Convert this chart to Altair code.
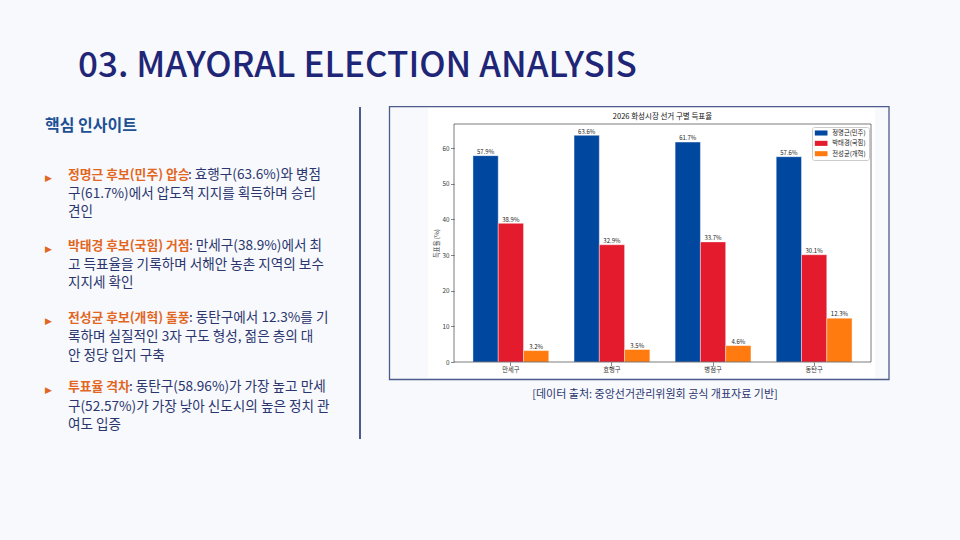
import altair as alt
import pandas as pd

# ---------------- data ----------------
districts = ["만세구", "효행구", "병점구", "동탄구"]
candidates = ["정명근(민주)", "박태경(국힘)", "전성균(개혁)"]
jung = [57.9, 63.6, 61.7, 57.6]
park = [38.9, 32.9, 33.7, 30.1]
jeon = [3.2, 3.5, 4.6, 12.3]
bar_colors = ["#0047a0", "#e31b2c", "#ff7b10"]

chart_title = "2026 화성시장 선거 구별 득표율"
y_title = "득표율 (%)"
y_ticks = [0, 10, 20, 30, 40, 50, 60]

slide_title = "03. MAYORAL ELECTION ANALYSIS"
heading = "핵심 인사이트"
bullet_keys = ["정명근 후보(민주) 압승", "박태경 후보(국힘) 거점",
               "전성균 후보(개혁) 돌풍", "투표율 격차"]
bullet_first = [": 효행구(63.6%)와 병점", ": 만세구(38.9%)에서 최",
                ": 동탄구에서 12.3%를 기", ": 동탄구(58.96%)가 가장 높고 만세"]
bullet_rest = [["구(61.7%)에서 압도적 지지를 획득하며 승리", "견인"],
               ["고 득표율을 기록하며 서해안 농촌 지역의 보수", "지지세 확인"],
               ["록하며 실질적인 3자 구도 형성, 젊은 층의 대", "안 정당 입지 구축"],
               ["구(52.57%)가 가장 낮아 신도시의 높은 정치 관", "여도 입증"]]
caption = "[데이터 출처: 중앙선거관리위원회 공식 개표자료 기반]"

rows = []
for cand, vals in zip(candidates, [jung, park, jeon]):
    for d, v in zip(districts, vals):
        rows.append({"district": d, "candidate": cand, "value": v})
df = pd.DataFrame(rows)

# ---------------- layout ----------------
KR = "Noto Sans CJK KR"
OX, OY = 454, 124          # plot-area origin on the page
W, H = 417, 238            # plot-area size
ymax = max(jung) * 1.05

NAVY = "#2b356e"
ORANGE = "#e2661f"
one = pd.DataFrame({"k": [0]})


def px(x):
    return x - OX


def py(y):
    return y - OY


def txt(text, x, y, size, color, weight="normal", align="left",
        baseline="middle", font=KR):
    kw = dict(align=align, baseline=baseline, fontSize=size, font=font,
              fontWeight=weight, color=color)
    return alt.Chart(one).mark_text(**kw).encode(
        x=alt.value(px(x)), y=alt.value(py(y)), text=alt.value(text))


def box(x1, y1, x2, y2, **kw):
    return alt.Chart(one).mark_rect(**kw).encode(
        x=alt.value(px(x1)), x2=alt.value(px(x2)),
        y=alt.value(py(y1)), y2=alt.value(py(y2)))


layers = []

# frame around chart image and white figure
layers.append(box(389.5, 106.7, 889, 379.5, filled=False,
                  stroke="#4d5b8c", strokeWidth=1.3))
layers.append(box(428, 108, 875, 378, color="white"))

x_enc = alt.X("district:N", sort=districts,
              scale=alt.Scale(paddingInner=0.25, paddingOuter=0.1875),
              axis=alt.Axis(title=None, labelAngle=0, labelFont=KR,
                            labelFontSize=6.3, labelColor="#333",
                            tickSize=3.5, tickColor="#333", tickWidth=0.6,
                            domain=False, labelPadding=1, zindex=1))
xo_enc = alt.XOffset("candidate:N", sort=candidates)
y_enc = alt.Y("value:Q",
              scale=alt.Scale(domain=[0, ymax], nice=False),
              axis=alt.Axis(values=y_ticks, tickCount=7, format="d",
                            labelFont=KR, labelOverlap=False,
                            labelFontSize=6.3, labelColor="#333",
                            tickSize=3.5, tickColor="#333", tickWidth=0.6,
                            domain=False, grid=False, labelPadding=1.5,
                            title=y_title, titleFont=KR, titleFontSize=6.3,
                            titleFontWeight="normal", titleColor="#333333",
                            titleX=-17.3, titleY=119, titleAngle=270,
                            titleAlign="center", titleBaseline="middle",
                            zindex=1))

bars = alt.Chart(df).mark_bar(stroke="white", strokeWidth=0.4).encode(
    x=x_enc, xOffset=xo_enc, y=y_enc,
    color=alt.Color("candidate:N",
                    scale=alt.Scale(domain=candidates, range=bar_colors),
                    legend=alt.Legend(
                        title=None, orient="none", legendX=358, legendY=3,
                        direction="vertical",
                        symbolType="M-1,-0.8H3V0.8H-1Z", symbolSize=40,
                        symbolStrokeWidth=0, symbolOpacity=1,
                        labelFont=KR, labelFontSize=6.3, labelColor="#222",
                        labelOffset=10.8, rowPadding=3.35, padding=2.5,
                        fillColor="rgba(255,255,255,0.85)",
                        strokeColor="#cccccc", cornerRadius=2)),
)
labels = alt.Chart(df).transform_calculate(
    label="format(datum.value, '.1f') + '%'"
).mark_text(baseline="bottom", dy=-0.8, fontSize=6, font=KR,
            color="#222").encode(
    x=x_enc, xOffset=xo_enc, y=y_enc, text="label:N")
layers += [bars, labels]

# spines
layers.append(alt.Chart(one).mark_rect(filled=False, stroke="#444",
                                       strokeWidth=0.7).encode(
    x=alt.value(0), x2=alt.value(W), y=alt.value(0), y2=alt.value(H)))

# chart title
layers.append(txt(chart_title, OX + W / 2, 117, 7.5, "#111", align="center"))

# slide title and heading
layers.append(txt(slide_title, 78, 76.5, 35, "#1f2677", weight=500,
                  baseline="alphabetic"))
layers.append(txt(heading, 45, 131, 16, "#1d5094", weight="bold",
                  baseline="alphabetic"))

# bullets
line_y = [[174, 193.3, 211.5], [245, 264, 282.7],
          [317.3, 336.7, 355], [386.7, 406, 424.5]]
key_end = [188, 189, 189, 129]
for i in range(4):
    ys = line_y[i]
    layers.append(txt("▶", 48.5, ys[0] + 3.5, 9, ORANGE, align="center",
                      font="DejaVu Sans"))
    layers.append(txt(bullet_keys[i], 68, ys[0] + 0.5, 12.8, ORANGE,
                      weight="bold"))
    layers.append(txt(bullet_first[i], key_end[i], ys[0] + 0.5, 13.6, NAVY))
    for j, line in enumerate(bullet_rest[i]):
        layers.append(txt(line, 68, ys[j + 1] + 0.5, 13.6, NAVY))

# divider
layers.append(alt.Chart(one).mark_rule(color="#4d5b8c", strokeWidth=2).encode(
    x=alt.value(px(360)), y=alt.value(py(107)), y2=alt.value(py(439))))

# caption
layers.append(txt(caption, 655, 395, 11, NAVY, align="center"))

chart = alt.layer(*layers).properties(
    width=W, height=H,
    padding={"left": OX, "top": OY, "right": 960 - OX - W,
             "bottom": 540 - OY - H},
    autosize=alt.AutoSizeParams(type="none"),
    background="#f7f9fc",
).configure_view(stroke="transparent")

chart.save("out.html", embed_options={"renderer": "svg", "actions": False})
